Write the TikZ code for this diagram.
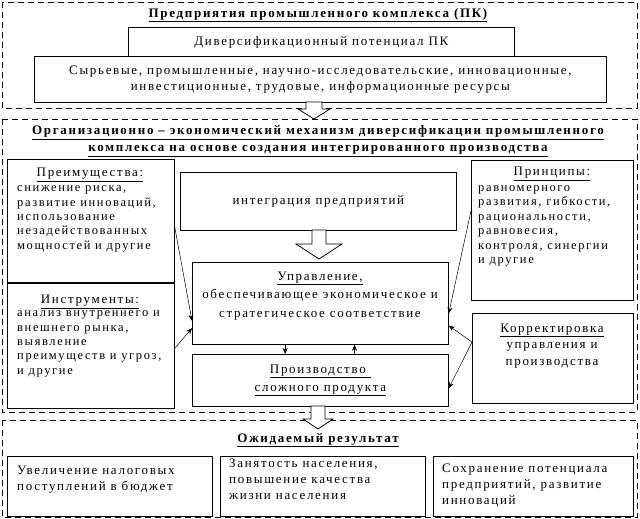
\documentclass[tikz,border=0pt]{standalone}
\usepackage{fontspec}
\setmainfont{Liberation Serif}[LetterSpace=13]
\usetikzlibrary{arrows.meta,calc,positioning}

\tikzset{
  frame/.style={draw, dash pattern=on 6pt off 4pt, line width=0.75pt},
  box/.style={draw, line width=0.75pt, fill=white, anchor=north west, inner sep=0pt},
  txt/.style={inner sep=0pt, font=\fontsize{13}{14.4}\selectfont, align=left},
  ctxt/.style={txt, align=center},
  side/.style={txt, anchor=west, font=\fontsize{12.5}{14.4}\selectfont},
  ttl/.style={inner sep=0pt, font=\bfseries\fontsize{13}{17}\selectfont, align=center},
  conn/.style={-{Stealth[length=6pt,width=5pt]}, line width=0.5pt},
  hollow/.style={draw, fill=white, line width=0.75pt},
}

\begin{document}
\begin{tikzpicture}[x=1pt,y=-1pt]
\useasboundingbox (0,0) rectangle (640,519);
% dashed frames
\draw[frame] (2,2) rectangle (637,108);
\draw[frame] (2,119) rectangle (637,412);
\draw[frame] (2,420) rectangle (637,517);

% top frame
\node[ttl] (pk) at (318,15) {\underline{Предприятия промышленного комплекса (ПК)}};
\node[box, minimum width=386pt, minimum height=29pt] (div) at (128,27) {};
\node[ctxt] (divtxt) at (div.center) {Диверсификационный потенциал ПК};
\node[box, minimum width=572pt, minimum height=46pt] (res) at (34,56) {};
\node[ctxt, font=\fontsize{13}{16}\selectfont] (restxt) at (res.center)
  {Сырьевые, промышленные, научно-исследовательские, инновационные,\\
   инвестиционные, трудовые, информационные ресурсы};

% middle frame
\node[ttl] (mech) at (318,141)
  {\underline{Организационно -- экономический механизм диверсификации промышленного}\\
   \underline{комплекса на основе создания интегрированного производства}};
\node[box, minimum width=167pt, minimum height=123pt] (pre) at (7,159) {};
\node[ctxt] (prehd) at (90,175) {\underline{Преимущества:}};
\node[side] (pretxt) at (17,219)
  {снижение риска,\\ развитие инноваций,\\ использование\\ незадействованных\\ мощностей и другие};
\node[box, minimum width=167pt, minimum height=125pt] (ins) at (7,283) {};
\node[ctxt] (inshd) at (90,302) {\underline{Инструменты:}};
\node[side] (instxt) at (17,344)
  {анализ внутреннего и\\ внешнего рынка,\\ выявление\\ преимуществ и угроз,\\ и другие};
\node[box, minimum width=276pt, minimum height=58pt] (int) at (180,172) {};
\node[ctxt] (inttxt) at (int.center) {интеграция предприятий};
\node[box, minimum width=256pt, minimum height=82pt] (upr) at (192,262) {};
\node[ctxt, font=\fontsize{13}{18.5}\selectfont] (uprtxt) at (320,296)
  {\underline{Управление,}\\ обеспечивающее экономическое и\\ стратегическое соответствие};
\node[box, minimum width=256pt, minimum height=52pt] (prod) at (192,354) {};
\node[ctxt, font=\fontsize{13}{18}\selectfont] (prodtxt) at (prod.center)
  {\underline{Производство\ }\\ \underline{сложного продукта}};
\node[box, minimum width=162pt, minimum height=140pt] (pri) at (471,160) {};
\node[ctxt] (prihd) at (552,174) {\underline{Принципы:}};
\node[side] (pritxt) at (478,226)
  {равномерного\\ развития, гибкости,\\ рациональности,\\ равновесия,\\ контроля, синергии\\ и другие};
\node[box, minimum width=161pt, minimum height=90pt] (kor) at (472,313) {};
\node[ctxt, font=\fontsize{13}{16.5}\selectfont] (kortxt) at (552,346)
  {\underline{Корректировка}\\ управления и\\ производства};

% bottom frame
\node[ttl] (res2) at (318,440) {\underline{Ожидаемый результат}};
\node[box, minimum width=205pt, minimum height=60pt] (r1) at (7,456) {};
\node[txt, anchor=west, font=\fontsize{13}{16}\selectfont] (r1txt) at (17,480)
  {Увеличение налоговых\\ поступлений в бюджет};
\node[box, minimum width=205pt, minimum height=60pt] (r2) at (220,456) {};
\node[txt, anchor=west, font=\fontsize{13}{16}\selectfont] (r2txt) at (229,479)
  {Занятость населения,\\ повышение качества\\ жизни населения};
\node[box, minimum width=200pt, minimum height=60pt] (r3) at (433,456) {};
\node[txt, anchor=west, font=\fontsize{13}{16}\selectfont] (r3txt) at (442,485)
  {Сохранение потенциала\\ предприятий, развитие\\ инноваций};

% block arrows
\draw[hollow] (306,102) -- (306,109) -- (298,109) -- (314,119) -- (330,109) -- (322,109) -- (322,102) -- cycle;
\draw[hollow] (312,230) -- (312,244) -- (296,244) -- (319,259) -- (342,244) -- (326,244) -- (326,230) -- cycle;
\draw[hollow] (311,406) -- (311,419) -- (303,419) -- (318,429) -- (333,419) -- (325,419) -- (325,406) -- cycle;

% connectors
\draw[conn] ($(pre.north east)!.55!(pre.south east)$) -- ($(upr.north west)!.71!(upr.south west)$);
\draw[conn] ($(ins.north east)!.52!(ins.south east)$) -- ($(upr.north west)!.80!(upr.south west)$);
\draw[conn] ($(pri.north west)!.36!(pri.south west)$) -- ($(upr.north east)!.62!(upr.south east)$);
\draw[conn] ($(kor.north west)!.32!(kor.south west)$) -- ($(upr.north east)!.77!(upr.south east)$);
\draw[conn] ($(kor.north west)!.32!(kor.south west)$) -- ($(prod.north east)!.65!(prod.south east)$);
\draw[conn] ($(upr.south west)!.363!(upr.south east)$) -- ($(prod.north west)!.363!(prod.north east)$);
\draw[conn] ($(prod.north west)!.633!(prod.north east)$) -- ($(upr.south west)!.633!(upr.south east)$);
\end{tikzpicture}
\end{document}
